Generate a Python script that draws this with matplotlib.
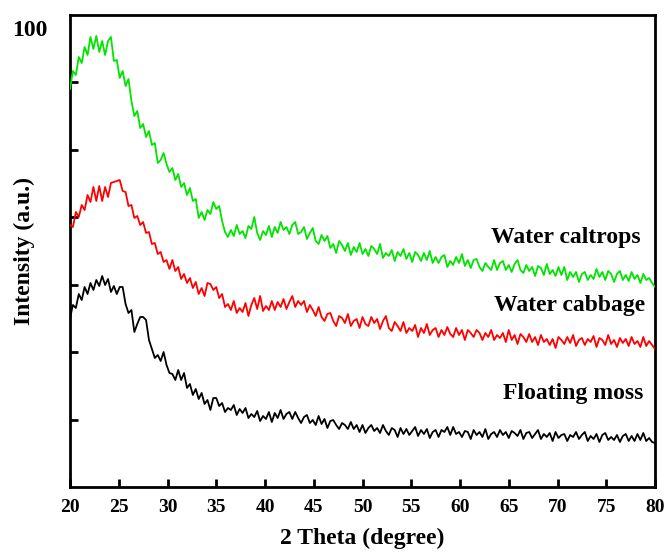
import numpy as np
import matplotlib
matplotlib.use('Agg')
import matplotlib.pyplot as plt

# XRD patterns of the three plants, intensity (a.u.)
labels = ['Water caltrops', 'Water cabbage', 'Floating moss']
colors = ['#00e400', '#ff0000', 'black']

caltrops = [398, 416, 412, 430, 424, 440, 432, 450, 438, 451,
            435, 446, 432, 446, 450, 426, 427, 409, 416, 401,
            408, 386, 371, 376, 359, 363, 350, 356, 342, 344,
            324, 327, 334, 323, 315, 319, 307, 313, 300, 304,
            292, 299, 286, 288, 269, 275, 267, 277, 273, 285,
            278, 281, 266, 255, 250, 257, 251, 262, 253, 256,
            249, 261, 258, 270, 254, 247, 256, 252, 261, 250,
            260, 254, 265, 257, 260, 253, 262, 265, 253, 255,
            260, 248, 254, 259, 246, 243, 252, 246, 251, 239,
            243, 234, 246, 242, 236, 244, 232, 240, 235, 244,
            233, 238, 231, 241, 238, 233, 243, 229, 234, 231,
            237, 226, 235, 231, 238, 228, 234, 225, 235, 232,
            226, 234, 227, 236, 224, 230, 224, 230, 232, 220,
            226, 222, 230, 224, 233, 221, 227, 219, 227, 228,
            220, 216, 224, 220, 217, 227, 217, 224, 226, 217,
            222, 215, 223, 227, 217, 214, 222, 216, 220, 211,
            221, 219, 212, 223, 213, 217, 211, 220, 212, 220,
            207, 215, 210, 215, 205, 213, 215, 207, 212, 208,
            218, 210, 215, 207, 216, 213, 205, 213, 216, 207,
            212, 206, 215, 208, 212, 204, 213, 207, 209, 204,
            200]

cabbage = [262, 260, 275, 270, 282, 277, 292, 285, 300, 286,
           301, 286, 300, 290, 304, 305, 306, 307, 296, 295,
           281, 282, 269, 271, 262, 265, 254, 255, 243, 244,
           233, 235, 225, 227, 218, 227, 216, 220, 208, 213,
           204, 209, 199, 205, 193, 199, 191, 204, 203, 197,
           200, 189, 193, 180, 183, 177, 186, 174, 179, 175,
           184, 171, 182, 189, 178, 191, 176, 181, 177, 186,
           177, 185, 180, 188, 178, 185, 191, 180, 186, 182,
           186, 175, 182, 177, 171, 180, 170, 166, 173, 174,
           166, 161, 171, 169, 164, 173, 161, 166, 168, 159,
           170, 163, 161, 170, 164, 168, 158, 166, 171, 159,
           156, 165, 161, 156, 165, 154, 159, 156, 162, 150,
           159, 154, 163, 152, 157, 159, 150, 157, 152, 160,
           153, 150, 159, 152, 157, 147, 157, 154, 150, 157,
           154, 147, 154, 150, 157, 147, 152, 149, 154, 145,
           157, 147, 152, 143, 153, 150, 145, 153, 145, 150,
           142, 152, 145, 148, 142, 148, 139, 150, 147, 143,
           150, 144, 152, 141, 147, 149, 142, 148, 145, 151,
           140, 149, 147, 142, 152, 143, 147, 140, 149, 144,
           148, 141, 150, 143, 146, 140, 150, 141, 146, 142,
           138]

moss = [169, 182, 179, 193, 187, 200, 193, 204, 197, 207,
        201, 211, 202, 208, 195, 201, 193, 200, 200, 183,
        174, 177, 155, 163, 170, 170, 167, 147, 138, 129,
        132, 126, 135, 122, 114, 113, 107, 117, 107, 114,
        99, 103, 92, 98, 88, 94, 83, 87, 77, 89,
        89, 81, 84, 75, 79, 77, 82, 72, 78, 74,
        79, 69, 73, 70, 76, 66, 71, 68, 75, 65,
        74, 69, 77, 68, 73, 75, 68, 75, 69, 64,
        70, 72, 64, 67, 62, 71, 63, 68, 59, 66,
        67, 62, 58, 64, 62, 58, 65, 58, 62, 55,
        62, 54, 59, 62, 56, 59, 54, 62, 56, 52,
        59, 57, 50, 59, 53, 58, 52, 56, 60, 51,
        57, 53, 58, 49, 55, 57, 50, 57, 55, 60,
        52, 60, 53, 55, 50, 56, 55, 48, 57, 52,
        55, 50, 58, 48, 53, 55, 50, 57, 52, 55,
        49, 56, 54, 51, 57, 48, 54, 55, 49, 53,
        57, 48, 53, 50, 54, 46, 55, 49, 52, 53,
        46, 52, 50, 55, 48, 52, 55, 46, 51, 48,
        53, 45, 52, 54, 47, 50, 47, 52, 45, 51,
        53, 46, 51, 46, 53, 47, 54, 46, 49, 45,
        44]

xticks = [20, 25, 30, 35, 40, 45, 50, 55, 60, 65, 70, 75, 80]

plt.rcParams['font.family'] = ['Liberation Serif', 'DejaVu Serif']
plt.rcParams['font.weight'] = 'bold'

fig = plt.figure(figsize=(6.65, 5.54), dpi=100)
ax = fig.add_axes([70 / 665, 67 / 554, 585 / 665, 472.5 / 554])

series = [caltrops, cabbage, moss]
for vals, c in zip(series, colors):
    tt = np.linspace(20, 80, len(vals))  # 0.3 degree step
    ax.plot(tt, vals, color=c, lw=1.3, zorder=3)

ax.set_xlim(20, 80)
ax.set_ylim(0, 472.5)
ax.set_xticks(xticks)
ax.set_yticks(np.arange(1, 7) * 67.5)
ax.set_yticklabels([])
ax.tick_params(direction='in', length=6, width=2, labelsize=14, pad=9)
for sp in ax.spines.values():
    sp.set_linewidth(2)

ax.set_xlabel('2 Theta (degree)', fontsize=17, fontweight='bold', labelpad=8)
ax.set_ylabel('Intensity (a.u.)', fontsize=17, fontweight='bold', labelpad=16)

# curve names, right aligned near the end of each pattern
ax.text(78.5, 250, labels[0], fontsize=17, fontweight='bold', ha='right', va='center')
ax.text(79.0, 182, labels[1], fontsize=17, fontweight='bold', ha='right', va='center')
ax.text(78.8, 94, labels[2], fontsize=17, fontweight='bold', ha='right', va='center')

fig.text(30 / 665, 1 - 31 / 554, '100', fontsize=17, fontweight='bold', ha='center', va='center')

fig.savefig('out.png', dpi=100)
